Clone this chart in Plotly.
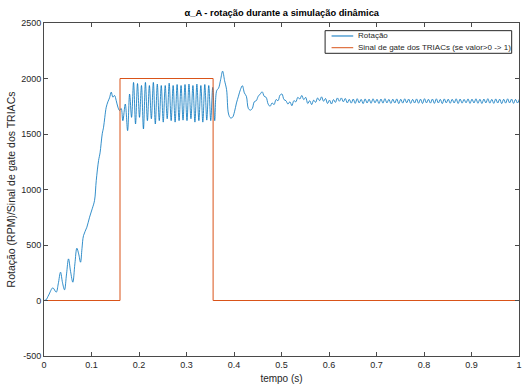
import numpy as np
import plotly.graph_objects as go

# ---------------- data ----------------
# start-up (irregular samples)
t_start = [0.000, 0.004, 0.010, 0.0186, 0.0257, 0.030, 0.0348, 0.039, 0.0432, 0.0475,
           0.0516, 0.056, 0.0607, 0.065, 0.0692, 0.073, 0.0769, 0.080, 0.0832, 0.0902,
           0.0959, 0.1015, 0.1064, 0.110, 0.1149, 0.118, 0.1226, 0.1254, 0.128, 0.131,
           0.1345, 0.138, 0.1416, 0.145, 0.1485, 0.152, 0.1556, 0.159, 0.1625, 0.166,
           0.1711, 0.176]
rpm_start = [0, 5, 50, 114, 75, 150, 255, 160, 96, 240,
             375, 260, 165, 330, 471, 420, 345, 470, 585, 660,
             750, 826, 901, 1081, 1261, 1330, 1502, 1561, 1650, 1741,
             1790, 1826, 1877, 1832, 1847, 1802, 1742, 1712, 1730, 1620,
             1770, 1530]

# ripple part: successive peaks / troughs of the 120 Hz ripple (one value every half period)
T_RIPPLE0 = 0.1802
HALF_PERIOD = 1.0 / 240.0
rpm_gate_on = [1860, 1650, 1965, 1590, 1955, 1650, 1937, 1545, 1965, 1620,
               1937, 1637, 1965, 1590, 1950, 1620, 1937, 1607, 1937, 1637,
               1958, 1620, 1937, 1607, 1946, 1620, 1937, 1625, 1946, 1620,
               1950, 1637, 1937, 1607, 1950, 1620, 1937, 1607, 1946, 1625,
               1937, 1620, 1920, 1620]
rpm_settle = [1890, 1915, 1990, 2066, 1980, 1900, 1680, 1645, 1650, 1700,
              1780, 1840, 1900, 1935, 1870, 1840, 1730, 1715, 1730, 1790,
              1800, 1840, 1860, 1880, 1840, 1830, 1770, 1750, 1780, 1765,
              1810, 1800, 1850, 1860, 1810, 1800, 1770, 1790, 1755, 1800,
              1790, 1830, 1815, 1847, 1810, 1830, 1775, 1800, 1765, 1805,
              1785, 1825, 1800, 1835, 1795, 1820, 1775, 1805, 1770, 1810,
              1785, 1825, 1795, 1825, 1790, 1820, 1780, 1812]
rpm_tail = [1778, 1815, 1776, 1818, 1780, 1812, 1774, 1816, 1779, 1814,
            1777, 1817, 1781, 1813, 1775, 1815, 1778, 1818, 1780, 1812,
            1776, 1814, 1779, 1816, 1774, 1813, 1778, 1817, 1781, 1815,
            1776, 1812, 1779, 1816, 1777, 1814, 1775, 1818, 1780, 1813,
            1778, 1815, 1776, 1817, 1779, 1812, 1774, 1816, 1780, 1814,
            1777, 1813, 1779, 1817, 1775, 1815, 1778, 1812, 1781, 1816,
            1776, 1814, 1779, 1817, 1777, 1813, 1775, 1815, 1780, 1818,
            1778, 1812, 1776, 1816, 1779, 1814, 1774, 1813, 1778, 1817,
            1780, 1815, 1776, 1812, 1779, 1816]

# gate signal
gate_t = [0.0, 0.16, 0.16, 0.356, 0.356, 1.0]
gate_v = [0, 0, 2000, 2000, 0, 0]

x_ticks = [0, 0.1, 0.2, 0.3, 0.4, 0.5, 0.6, 0.7, 0.8, 0.9, 1]
x_tick_labels = ["0", "0.1", "0.2", "0.3", "0.4", "0.5", "0.6", "0.7", "0.8", "0.9", "1"]
y_ticks = [-500, 0, 500, 1000, 1500, 2000, 2500]
y_tick_labels = ["-500", "0", "500", "1000", "1500", "2000", "2500"]

title = "α_A - rotação durante a simulação dinâmica"
x_label = "tempo (s)"
y_label = "Rotação (RPM)/Sinal de gate dos TRIACs"
names = ["Rotação", "Sinal de gate dos TRIACs (se valor>0 -> 1)"]
colors = ["#0072BD", "#D95319"]

# ---------------- build series ----------------
rpm_ripple = rpm_gate_on + rpm_settle + rpm_tail
t_ripple = T_RIPPLE0 + HALF_PERIOD * np.arange(len(rpm_ripple))
t_rot = np.concatenate([np.array(t_start), t_ripple])
rpm = np.concatenate([np.array(rpm_start, dtype=float), np.array(rpm_ripple, dtype=float)])

FONT = "Liberation Sans, Arial, sans-serif"
AX = "#4a4a4a"
TXT = "#262626"

fig = go.Figure()
fig.add_trace(go.Scatter(x=t_rot, y=rpm, mode="lines", name=names[0],
                         line=dict(color=colors[0], width=0.8, shape="spline", smoothing=1.0),
                         showlegend=False))
fig.add_trace(go.Scatter(x=gate_t, y=gate_v, mode="lines", name=names[1],
                         line=dict(color=colors[1], width=1.0), showlegend=False))

axis_common = dict(showline=True, linecolor=AX, linewidth=1, mirror="ticks",
                   ticks="inside", ticklen=4, tickcolor=AX, showgrid=False,
                   zeroline=False, automargin=False,
                   tickfont=dict(family=FONT, size=9, color=TXT))

# MATLAB-style legend box (paper coordinates of the plot area)
leg_x0, leg_x1, leg_y0, leg_y1 = 0.5918, 0.9846, 0.909, 0.977
leg_line_x = (0.6054, 0.6510)
leg_rows = [0.961, 0.9258]
leg_text_x = 0.6565

shapes = [dict(type="rect", xref="paper", yref="paper", x0=leg_x0, x1=leg_x1,
               y0=leg_y0, y1=leg_y1, line=dict(color=TXT, width=1), fillcolor="white",
               layer="above")]
annotations = []
for name, col, yy in zip(names, colors, leg_rows):
    shapes.append(dict(type="line", xref="paper", yref="paper", x0=leg_line_x[0],
                       x1=leg_line_x[1], y0=yy, y1=yy, line=dict(color=col, width=1),
                       layer="above"))
    annotations.append(dict(text=name, xref="paper", yref="paper", x=leg_text_x, y=yy,
                            xanchor="left", yanchor="middle", showarrow=False,
                            font=dict(family=FONT, size=8, color=TXT)))

fig.update_layout(
    width=522, height=387,
    margin=dict(l=44, r=3, t=23, b=31),
    paper_bgcolor="white", plot_bgcolor="white",
    font=dict(family=FONT, size=9, color=TXT),
    title=dict(text="<b>" + title + "</b>", x=(44.5 + 519) / 2 / 522, xanchor="center",
               y=1 - 13 / 387, yanchor="middle",
               font=dict(family=FONT, size=9.3, color="black")),
    xaxis=dict(range=[0, 1], tickvals=x_ticks, ticktext=x_tick_labels,
               title=dict(text=x_label, font=dict(family=FONT, size=10, color=TXT),
                          standoff=6),
               **axis_common),
    yaxis=dict(range=[-500, 2500], tickvals=y_ticks, ticktext=y_tick_labels,
               title=dict(text=y_label, font=dict(family=FONT, size=10.5, color=TXT),
                          standoff=3),
               **axis_common),
    shapes=shapes,
    annotations=annotations,
    showlegend=False,
)

fig.write_html("out.html", config={"displayModeBar": False},
               post_script="document.body.style.margin='0';document.body.style.overflow='hidden';")
